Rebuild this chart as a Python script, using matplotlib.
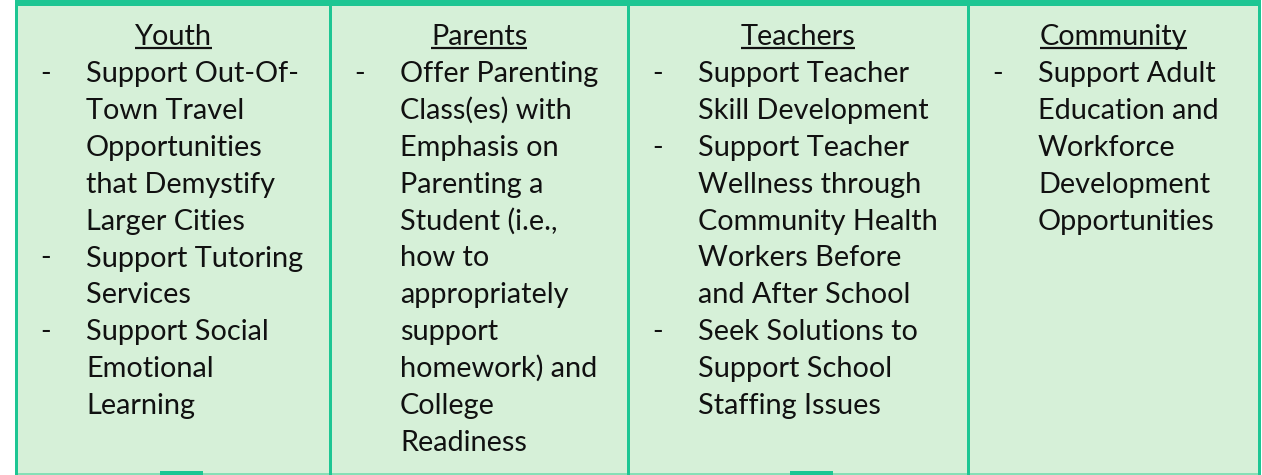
import matplotlib
matplotlib.use("Agg")
import matplotlib.pyplot as plt
from matplotlib.patches import Rectangle

# headers of the four columns
categories = ["Youth", "Parents", "Teachers", "Community"]

# bullet items, already wrapped the way the reference wraps them
youth_items = [
    ["Support Out-Of-", "Town Travel", "Opportunities", "that Demystify", "Larger Cities"],
    ["Support Tutoring", "Services"],
    ["Support Social", "Emotional", "Learning"],
]
parents_items = [
    ["Offer Parenting", "Class(es) with", "Emphasis on", "Parenting a", "Student (i.e.,",
     "how to", "appropriately", "support", "homework) and", "College", "Readiness"],
]
teachers_items = [
    ["Support Teacher", "Skill Development"],
    ["Support Teacher", "Wellness through", "Community Health", "Workers Before",
     "and After School"],
    ["Seek Solutions to", "Support School", "Staffing Issues"],
]
community_items = [
    ["Support Adult", "Education and", "Workforce", "Development", "Opportunities"],
]
column_items = [youth_items, parents_items, teachers_items, community_items]

# layout (pixels)
W, H = 1262, 475
edges = [16, 330, 628, 968, 1259]
dark = "#1dc693"
light_edge = "#86dfb6"
fill = "#d6f0d8"
ink = "#111111"
fs = 20.8
font = "Lato"

fig = plt.figure(figsize=(W / 100, H / 100), dpi=100)
ax = fig.add_axes([0, 0, 1, 1])
ax.set_xlim(0, W)
ax.set_ylim(H, 0)
ax.axis("off")

# cells
for i in range(4):
    x0, x1 = edges[i], edges[i + 1]
    ax.add_patch(Rectangle((x0, 0), x1 - x0, H, facecolor=fill,
                           edgecolor=light_edge, linewidth=1.0, zorder=1))
# top bar, separators, bottom line
ax.add_patch(Rectangle((edges[0] - 1, 0), edges[-1] - edges[0] + 2, 5.5,
                       facecolor=dark, edgecolor="none", zorder=3))
for x in edges:
    ax.add_patch(Rectangle((x - 1.5, 0), 3, H, facecolor=dark,
                           edgecolor="none", zorder=3))
ax.add_patch(Rectangle((edges[0], H - 2.5), edges[-1] - edges[0], 2.5,
                       facecolor=light_edge, edgecolor="none", zorder=2))
for tx in (160, 790):
    ax.add_patch(Rectangle((tx, H - 4), 43, 4, facecolor=dark,
                           edgecolor="none", zorder=3))

fig.canvas.draw()
renderer = fig.canvas.get_renderer()

head_base = 45
body_base = 82
step = 36.9
for i, (cat, items) in enumerate(zip(categories, column_items)):
    x0, x1 = edges[i], edges[i + 1]
    cx = (x0 + x1) / 2
    t = ax.text(cx, head_base, cat, ha="center", va="baseline", fontsize=fs,
                family=font, color=ink, zorder=5)
    bb = t.get_window_extent(renderer)
    # underline under the header
    ax.plot([bb.x0, bb.x1], [head_base + 3, head_base + 3], color=ink,
            linewidth=1.6, solid_capstyle="butt", zorder=5)
    row = 0
    for item in items:
        ax.text(x0 + 24, body_base + row * step, "-", ha="left", va="baseline",
                fontsize=fs, family=font, color=ink, zorder=5)
        for line in item:
            ax.text(x0 + 70, body_base + row * step, line, ha="left",
                    va="baseline", fontsize=fs, family=font, color=ink, zorder=5)
            row += 1

fig.savefig("out.png", dpi=100, facecolor="white")
